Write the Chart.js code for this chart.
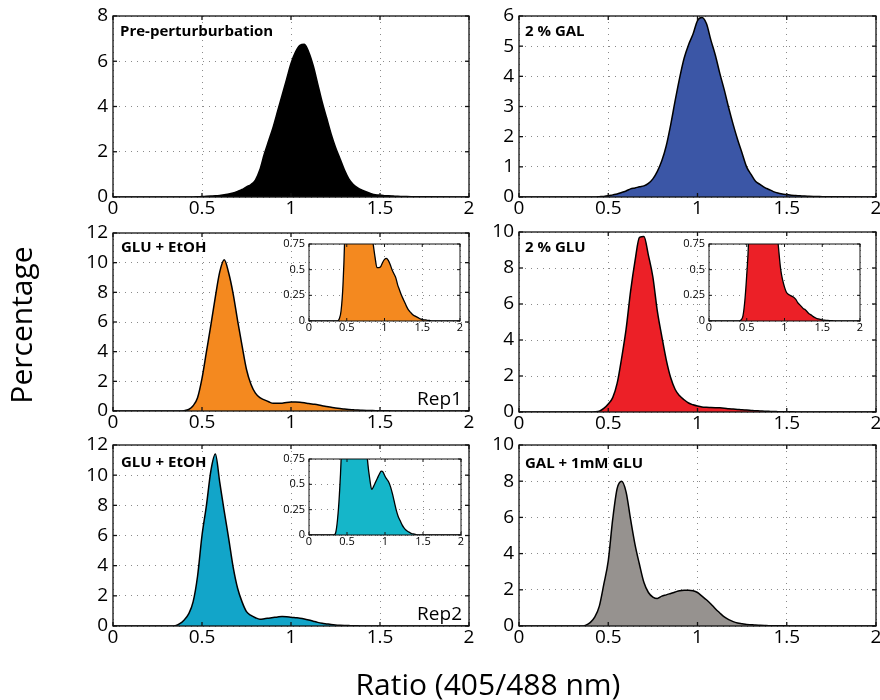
<!DOCTYPE html>
<html>
<head>
<meta charset="utf-8">
<title>Ratio histograms</title>
<script src="https://cdn.jsdelivr.net/npm/chart.js@4.4.1/dist/chart.umd.min.js"></script>
<style>
  body { margin: 0; background: #fff; }
  #fig { position: relative; width: 880px; height: 700px; overflow: hidden; font-family: "Open Sans", sans-serif; color: #000; }
  #fig canvas { position: absolute; left: 0; top: 0; }
  #ylab { position: absolute; left: 21px; top: 325px; width: 220px; height: 40px; margin: -20px 0 0 -110px;
          line-height: 40px; text-align: center; font-size: 30px; transform: rotate(-90deg); }
  #xlab { position: absolute; left: 288px; top: 669px; width: 400px; line-height: 30px;
          text-align: center; font-size: 30px; }
</style>
</head>
<body>
<div id="fig">
  <canvas id="p1" width="880" height="700"></canvas>
  <canvas id="p2" width="880" height="700"></canvas>
  <canvas id="p3" width="880" height="700"></canvas>
  <canvas id="p4" width="880" height="700"></canvas>
  <canvas id="p5" width="880" height="700"></canvas>
  <canvas id="p6" width="880" height="700"></canvas>
  <canvas id="i3" width="880" height="700"></canvas>
  <canvas id="i4" width="880" height="700"></canvas>
  <canvas id="i5" width="880" height="700"></canvas>
  <div id="ylab">Percentage</div>
  <div id="xlab">Ratio (405/488 nm)</div>
</div>
<script>
// bin centres of the 405/488 ratio
const ratio = [0,
  0.25, 0.275, 0.3, 0.325, 0.35, 0.375, 0.4, 0.425, 0.45, 0.475,
  0.5, 0.525, 0.55, 0.575, 0.6, 0.625, 0.65, 0.675, 0.7, 0.725,
  0.75, 0.775, 0.8, 0.825, 0.85, 0.875, 0.9, 0.925, 0.95, 0.975,
  1.0, 1.025, 1.05, 1.075, 1.1, 1.125, 1.15, 1.175, 1.2, 1.225,
  1.25, 1.275, 1.3, 1.325, 1.35, 1.375, 1.4, 1.425, 1.45, 1.475,
  1.5, 1.525, 1.55, 1.575, 1.6, 1.625, 1.65, 1.675, 1.7, 1.725,
  1.75, 2];

// % of cells per bin
const prePert = [0,
  0, 0, 0, 0, 0, 0, 0, 0, 0, 0.01,
  0.02, 0.03, 0.04, 0.05, 0.07, 0.1, 0.13, 0.18, 0.25, 0.33,
  0.45, 0.55, 0.75, 1.2, 1.9, 2.5, 3.1, 3.8, 4.5, 5.2,
  5.9, 6.4, 6.7, 6.75, 6.4, 5.8, 5.0, 4.2, 3.5, 2.8,
  2.2, 1.7, 1.2, 0.8, 0.55, 0.4, 0.3, 0.22, 0.15, 0.1,
  0.08, 0.06, 0.05, 0.04, 0.03, 0.025, 0.02, 0.015, 0.01, 0.01,
  0.01, 0];

const gal2 = [0,
  0, 0, 0, 0, 0, 0, 0, 0, 0.01, 0.02,
  0.04, 0.07, 0.1, 0.15, 0.2, 0.27, 0.3, 0.34, 0.37, 0.45,
  0.6, 0.85, 1.2, 1.7, 2.4, 3.2, 3.95, 4.6, 5.05, 5.4,
  5.85, 5.95, 5.75, 5.2, 4.7, 4.1, 3.55, 2.95, 2.4, 1.9,
  1.45, 1.0, 0.75, 0.52, 0.42, 0.32, 0.25, 0.18, 0.13, 0.1,
  0.08, 0.06, 0.05, 0.04, 0.03, 0.025, 0.02, 0.015, 0.01, 0.01,
  0.01, 0];

const gluEtohRep1 = [0,
  0, 0, 0, 0, 0, 0, 0.02, 0.1, 0.35, 0.9,
  2.2, 4.0, 5.8, 7.7, 9.4, 10.2, 9.3, 7.9, 6.1, 4.4,
  2.8, 1.8, 1.2, 0.9, 0.75, 0.62, 0.52, 0.52, 0.53, 0.57,
  0.6, 0.61, 0.59, 0.55, 0.5, 0.46, 0.42, 0.35, 0.3, 0.25,
  0.21, 0.17, 0.13, 0.1, 0.08, 0.06, 0.05, 0.04, 0.03, 0.02,
  0.015, 0.01, 0.01, 0.005, 0.005, 0, 0, 0, 0, 0,
  0, 0];

const glu2 = [0,
  0, 0, 0, 0, 0, 0, 0, 0.01, 0.05, 0.2,
  0.45, 0.8, 1.6, 3.0, 4.6, 6.7, 8.4, 9.7, 9.75, 8.7,
  7.5, 5.6, 4.2, 2.9, 1.9, 1.25, 0.9, 0.68, 0.5, 0.4,
  0.33, 0.28, 0.26, 0.25, 0.24, 0.23, 0.21, 0.18, 0.16, 0.14,
  0.12, 0.11, 0.09, 0.07, 0.06, 0.045, 0.035, 0.025, 0.02, 0.015,
  0.01, 0.008, 0.006, 0.005, 0.004, 0.003, 0.002, 0, 0, 0,
  0, 0];

const gluEtohRep2 = [0,
  0, 0, 0, 0, 0.02, 0.15, 0.4, 0.8, 1.6, 3.3,
  6.0, 8.0, 10.3, 11.4, 9.5, 7.6, 5.8, 3.9, 2.5, 1.6,
  0.95, 0.7, 0.55, 0.45, 0.48, 0.52, 0.56, 0.6, 0.63, 0.62,
  0.58, 0.55, 0.52, 0.47, 0.4, 0.32, 0.24, 0.18, 0.14, 0.1,
  0.07, 0.05, 0.035, 0.025, 0.015, 0.01, 0.005, 0, 0, 0,
  0, 0, 0, 0, 0, 0, 0, 0, 0, 0,
  0, 0];

const galGlu1mM = [0,
  0, 0, 0, 0, 0, 0.05, 0.2, 0.5, 1.1, 2.3,
  3.6, 5.9, 7.6, 8.0, 7.4, 5.9, 4.5, 3.4, 2.4, 1.85,
  1.6, 1.52, 1.65, 1.72, 1.8, 1.88, 1.95, 1.97, 1.97, 1.95,
  1.85, 1.65, 1.45, 1.22, 0.95, 0.72, 0.5, 0.35, 0.24, 0.17,
  0.13, 0.09, 0.07, 0.05, 0.04, 0.03, 0.02, 0.015, 0.01, 0.008,
  0.005, 0, 0, 0, 0, 0, 0, 0, 0, 0,
  0, 0];

const xTicks = [0, 0.5, 1, 1.5, 2];
const insetYTicks = [0, 0.25, 0.5, 0.75];

Chart.defaults.font.family = '"Open Sans", sans-serif';
Chart.defaults.color = '#000';

const W = 880, H = 700;

// box, inward ticks, and the in-axes labels
const frame = {
  id: 'frame',
  beforeDraw(chart) {
    const a = chart.chartArea, ctx = chart.ctx;
    ctx.save();
    ctx.fillStyle = '#fff';
    ctx.fillRect(a.left, a.top, a.right - a.left, a.bottom - a.top);
    ctx.restore();
  },
  afterDatasetsDraw(chart, args, o) {
    const { ctx, chartArea: a, scales: { x, y } } = chart;
    const tl = o.tick || 4;
    ctx.save();
    ctx.strokeStyle = '#111';
    ctx.lineWidth = o.inset ? 1 : 1.3;
    const line = (x1, y1, x2, y2) => { ctx.beginPath(); ctx.moveTo(x1, y1); ctx.lineTo(x2, y2); ctx.stroke(); };
    x.ticks.forEach(t => {
      const px = x.getPixelForValue(t.value);
      line(px, a.bottom, px, a.bottom - tl);
      line(px, a.top, px, a.top + tl);
    });
    y.ticks.forEach(t => {
      const py = y.getPixelForValue(t.value);
      line(a.left, py, a.left + tl, py);
      line(a.right, py, a.right - tl, py);
    });
    ctx.strokeRect(a.left, a.top, a.right - a.left, a.bottom - a.top);
    ctx.fillStyle = '#000';
    if (o.title) {
      ctx.font = 'bold 15px "Open Sans", sans-serif';
      ctx.textAlign = 'left';
      ctx.textBaseline = 'alphabetic';
      ctx.fillText(o.title, a.left + o.tx, a.top + o.ty);
    }
    if (o.rep) {
      ctx.font = '19px "Open Sans", sans-serif';
      ctx.textAlign = 'right';
      ctx.textBaseline = 'alphabetic';
      ctx.fillText(o.rep, a.right - 7, a.bottom - 6);
    }
    ctx.restore();
  }
};

function panel(id, area, values, color, yMax, yStep, extra) {
  const [l, t, r, b] = area;
  const inset = !!extra.inset;
  const yw = inset ? 30 : 40, xh = inset ? 16 : 26;
  const fs = inset ? 11 : 19;
  return new Chart(document.getElementById(id), {
    type: 'line',
    data: {
      datasets: [{
        data: ratio.map((v, i) => ({ x: v, y: values[i] })),
        fill: 'origin',
        backgroundColor: color,
        borderColor: '#000',
        borderWidth: inset ? 1.3 : 1.5,
        pointRadius: 0,
        cubicInterpolationMode: 'monotone'
      }]
    },
    options: {
      responsive: false,
      animation: false,
      events: [],
      layout: { padding: { left: l - yw, top: t, right: W - r, bottom: H - b - xh } },
      plugins: {
        legend: { display: false },
        tooltip: { enabled: false },
        frame: Object.assign({ tick: inset ? 3 : 4 }, extra)
      },
      scales: {
        x: {
          type: 'linear', min: 0, max: 2,
          afterFit: s => { s.height = xh; s.paddingLeft = 0; s.paddingRight = 0; },
          afterBuildTicks: s => { s.ticks = xTicks.map(v => ({ value: v })); },
          ticks: { callback: v => String(v), font: { size: fs, lineHeight: 1 }, padding: inset ? 1 : 2, maxRotation: 0, autoSkip: false },
          grid: { color: '#8a8a8a', lineWidth: 1, drawTicks: false },
          border: { display: false, dash: [1, 5] }
        },
        y: {
          min: 0, max: yMax,
          afterFit: s => { s.width = yw; s.paddingTop = 0; s.paddingBottom = 0; },
          afterBuildTicks: s => {
            if (inset) s.ticks = insetYTicks.map(v => ({ value: v }));
          },
          ticks: { stepSize: yStep, callback: v => String(v), font: { size: fs, lineHeight: 1 }, padding: inset ? 4 : 5, autoSkip: false },
          grid: { color: '#8a8a8a', lineWidth: 1, drawTicks: false },
          border: { display: false, dash: [1, 5] }
        }
      }
    },
    plugins: [frame]
  });
}

// main panels
panel('p1', [113, 16, 469, 197], prePert, '#000000', 8, 2, { title: 'Pre-perturburbation', tx: 7, ty: 20 });
panel('p2', [519, 16, 876, 197], gal2, '#3b56a6', 6, 1, { title: '2 % GAL', tx: 6, ty: 20 });
panel('p3', [113, 233, 469, 411], gluEtohRep1, '#f4891f', 12, 2, { title: 'GLU + EtOH', tx: 8, ty: 19, rep: 'Rep1' });
panel('p4', [519, 232, 876, 412], glu2, '#ec2027', 10, 2, { title: '2 % GLU', tx: 6, ty: 20 });
panel('p5', [113, 445, 469, 626], gluEtohRep2, '#12a5c9', 12, 2, { title: 'GLU + EtOH', tx: 8, ty: 22, rep: 'Rep2' });
panel('p6', [519, 445, 876, 626], galGlu1mM, '#96928f', 10, 2, { title: 'GAL + 1mM GLU', tx: 6, ty: 23 });

// zoomed insets of the low tails
panel('i3', [309, 244, 460, 321], gluEtohRep1, '#f4891f', 0.75, 0.25, { inset: true });
panel('i4', [709, 244, 860, 321], glu2, '#ec2027', 0.75, 0.25, { inset: true });
panel('i5', [309, 459, 461, 535], gluEtohRep2, '#15b6c9', 0.75, 0.25, { inset: true });
</script>
</body>
</html>
